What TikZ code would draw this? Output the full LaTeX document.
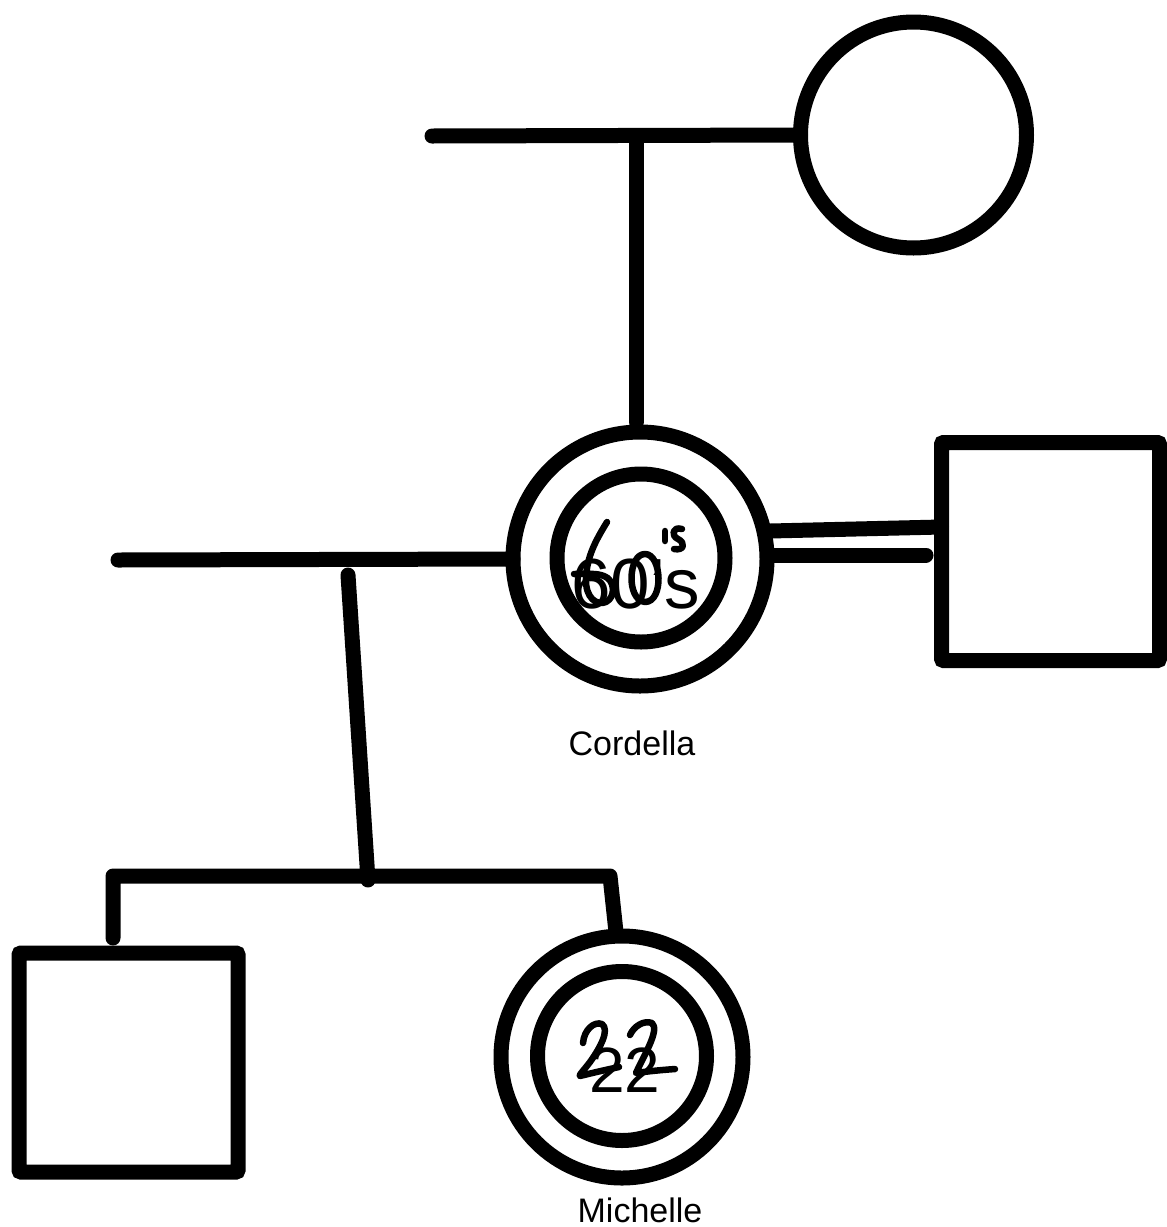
\documentclass[tikz,border=0pt]{standalone}
\usepackage{fontspec}
\setmainfont{Liberation Sans}
\begin{document}
\begin{tikzpicture}[x=1pt,y=-1pt,
  kin/.style={line width=15pt,line cap=round,line join=round},
  person/.style={draw,line width=15pt,inner sep=0pt,outer sep=0pt},
  female/.style={person,circle,minimum size=#1},
  male/.style={person,rectangle,rounded corners=2pt,minimum size=#1},
  ink/.style={line width=6.5pt,line cap=round,line join=round},
  caption/.style={font=\fontsize{34}{40}\selectfont,inner sep=0pt},
  agetext/.style={font=\fontsize{#1}{80}\selectfont,inner sep=0pt,anchor=base}]
\useasboundingbox (0,0) rectangle (1167,1227);

% people
\node[female=226pt] (gm) at (913.5,135) {};
\node[female=254pt] (cord) at (640,559) {};
\node[female=168pt] (cordin) at (641,558) {};
\node[male=218pt] (sp) at (1050.5,551.5) {};
\node[male=219pt] (son) at (128.5,1062.5) {};
\node[female=242pt] (mich) at (622,1057) {};
\node[female=169pt] (michin) at (622,1056) {};

% free line ends
\coordinate (gmL) at (432,136);
\coordinate (gmDrop) at (636,136);
\coordinate (cordL) at (118,560);
\coordinate (descTop) at (348,575);
\coordinate (descBot) at (368,880);
\coordinate (sibL) at (113,876);
\coordinate (sibR) at (610,876);
\coordinate (sonTop) at (113,938);
\coordinate (michTop) at (616,932);

% partnership with the grandparent
\draw[kin] (gmL) -- (gm.west);
\draw[kin] (gmDrop) -- (636,422);

% Cordella's first partnership and children
\draw[kin] (cordL) -- (cord.west);
\draw[kin] (descTop) -- (descBot);
\draw[kin] (sonTop) -- (sibL) -- (sibR) -- (michTop);

% double line to the second partner
\draw[kin] (770,531) -- (sp.west |- 0,527);
\draw[kin] (775,555) -- (926,555);

% labels
\node[caption] (cordname) at (632,743) {Cordella};
\node[caption] (michname) at (640,1210) {Michelle};

% typed ages
\node[agetext=71] (cordage) at (635.5,608) {60's};
\node[agetext=64] (michage) at (625,1092) {22};

% handwritten ages
\draw[ink] (607,522) .. controls (596,540) and (587,556) .. (586,578)
  .. controls (585,598) and (597,606) .. (606,602)
  .. controls (616,597) and (615,580) .. (604,576)
  .. controls (596,573) and (588,574) .. (574,574);
\draw[ink] (645,554) .. controls (628,554) and (626,600) .. (645,602)
  .. controls (664,602) and (662,554) .. (645,554);
\draw[ink] (665,531) -- (665,541);
\draw[ink] (682,529) .. controls (672,526) and (671,536) .. (678,539)
  .. controls (686,543) and (684,551) .. (674,549);

\draw[ink] (583,1043) .. controls (584,1030) and (594,1021) .. (602,1024)
  .. controls (610,1030) and (600,1048) .. (590,1062)
  .. controls (584,1070) and (578,1076) .. (580,1076)
  .. controls (592,1073) and (605,1070) .. (619,1067);
\draw[ink] (630,1035) .. controls (634,1026) and (644,1020) .. (652,1023)
  .. controls (660,1030) and (644,1055) .. (636,1073)
  .. controls (650,1071) and (662,1070) .. (675,1069);
\end{tikzpicture}
\end{document}
